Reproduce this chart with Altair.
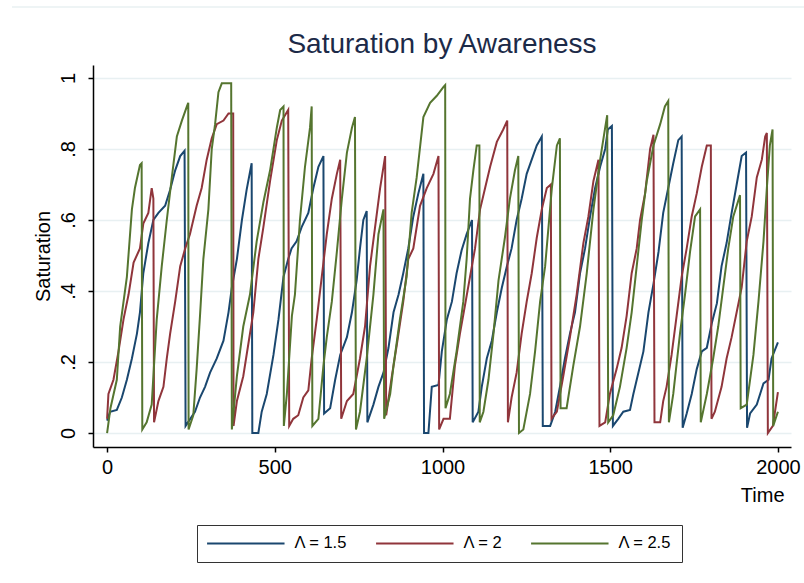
import altair as alt
import pandas as pd

series_names = ["Λ = 1.5", "Λ = 2", "Λ = 2.5"]
series_colors = ["#1a476f", "#90353b", "#55752f"]

blue_t = [0, 9, 29, 44, 59, 74, 89, 98, 108, 123, 138, 153, 173, 188, 203, 218, 231,
          234, 262, 277, 292, 307, 327, 347, 362, 372, 387, 402, 416, 431,
          433, 451, 461, 476, 496, 511, 526, 540, 550, 565, 580, 600, 615, 630, 645,
          647, 665, 680, 695, 715, 730, 744, 754, 764, 774,
          776, 794, 809, 824, 839, 854, 869, 883, 898, 913, 928, 943,
          945, 958, 968, 988, 998, 1013, 1028, 1042, 1057, 1072, 1088,
          1090, 1107, 1117, 1132, 1147, 1162, 1177, 1192, 1206, 1221, 1236, 1251, 1266, 1281, 1296,
          1299, 1321, 1336, 1350, 1365, 1380, 1395, 1410, 1425, 1440, 1455, 1470, 1485, 1493, 1505,
          1508, 1524, 1539, 1559, 1569, 1584, 1599, 1614, 1629, 1644, 1658, 1673, 1688, 1703, 1713,
          1716, 1728, 1743, 1758, 1773, 1788, 1803, 1818, 1832, 1847, 1862, 1877, 1892, 1905,
          1908, 1917, 1937, 1957, 1972, 1981, 2000]
blue_v = [0.035, 0.06, 0.065, 0.10, 0.15, 0.21, 0.28, 0.34, 0.45, 0.535, 0.60, 0.62, 0.64, 0.685, 0.74, 0.78, 0.795,
          0.02, 0.06, 0.10, 0.13, 0.17, 0.21, 0.26, 0.34, 0.41, 0.49, 0.60, 0.685, 0.76,
          0.00, 0.00, 0.06, 0.11, 0.22, 0.32, 0.44, 0.49, 0.52, 0.54, 0.58, 0.62, 0.69, 0.75, 0.78,
          0.055, 0.07, 0.15, 0.22, 0.27, 0.34, 0.43, 0.52, 0.60, 0.625,
          0.03, 0.08, 0.13, 0.17, 0.24, 0.34, 0.39, 0.45, 0.52, 0.61, 0.675, 0.73,
          0.00, 0.00, 0.13, 0.135, 0.23, 0.32, 0.37, 0.45, 0.515, 0.56, 0.60,
          0.03, 0.06, 0.13, 0.21, 0.26, 0.34, 0.41, 0.47, 0.52, 0.60, 0.66, 0.73, 0.77, 0.81, 0.835,
          0.02, 0.02, 0.06, 0.13, 0.21, 0.28, 0.34, 0.45, 0.52, 0.61, 0.69, 0.75, 0.80, 0.855, 0.865,
          0.02, 0.04, 0.06, 0.065, 0.11, 0.17, 0.23, 0.34, 0.42, 0.51, 0.62, 0.69, 0.76, 0.825, 0.835,
          0.015, 0.055, 0.11, 0.18, 0.23, 0.24, 0.31, 0.365, 0.47, 0.535, 0.62, 0.70, 0.78, 0.79,
          0.015, 0.055, 0.08, 0.14, 0.15, 0.21, 0.255]

red_t = [0, 4, 19, 34, 49, 64, 79, 98, 108, 123, 133, 138,
         140, 153, 168, 178, 188, 203, 218, 233, 247, 267, 282, 297, 312, 327, 347, 362, 376,
         377, 387, 406, 421, 436, 451, 466, 486, 506, 521, 540,
         543, 555, 570, 585, 600, 610, 625, 640, 655, 670, 685, 695,
         698, 715, 734, 754, 769, 784, 799, 814, 829,
         832, 849, 864, 883, 898, 913, 933, 953, 973, 988,
         990, 1003, 1022, 1037, 1052, 1067, 1082, 1097, 1112, 1127, 1142, 1162, 1181, 1193,
         1195, 1206, 1221, 1236, 1251, 1266, 1281, 1296, 1311, 1323,
         1325, 1341, 1360, 1380, 1400, 1420, 1435, 1450, 1465,
         1468, 1485, 1499, 1519, 1534, 1549, 1564, 1579, 1589, 1604, 1619, 1629,
         1632, 1649, 1658, 1668, 1683, 1698, 1713, 1728, 1743, 1758, 1773, 1788, 1800,
         1802, 1812, 1832, 1847, 1862, 1877, 1892, 1907, 1922, 1937, 1952, 1962, 1967,
         1970, 1985, 2000]
red_v = [0.04, 0.11, 0.15, 0.23, 0.32, 0.39, 0.48, 0.52, 0.59, 0.62, 0.69, 0.66,
         0.03, 0.09, 0.13, 0.21, 0.28, 0.37, 0.47, 0.52, 0.56, 0.64, 0.69, 0.77, 0.83, 0.87, 0.88, 0.90, 0.90,
         0.02, 0.09, 0.16, 0.25, 0.34, 0.49, 0.58, 0.71, 0.825, 0.88, 0.91,
         0.02, 0.04, 0.05, 0.10, 0.12, 0.21, 0.32, 0.44, 0.56, 0.66, 0.73, 0.77,
         0.04, 0.09, 0.11, 0.21, 0.30, 0.47, 0.58, 0.69, 0.78,
         0.05, 0.16, 0.25, 0.37, 0.49, 0.52, 0.64, 0.69, 0.73, 0.78,
         0.01, 0.04, 0.04, 0.19, 0.28, 0.36, 0.44, 0.52, 0.63, 0.69, 0.75, 0.82, 0.855, 0.88,
         0.03, 0.10, 0.17, 0.28, 0.37, 0.45, 0.55, 0.63, 0.69, 0.70,
         0.04, 0.06, 0.16, 0.27, 0.39, 0.535, 0.61, 0.71, 0.77,
         0.02, 0.03, 0.11, 0.18, 0.24, 0.33, 0.45, 0.52, 0.60, 0.675, 0.80, 0.84,
         0.03, 0.03, 0.09, 0.13, 0.22, 0.33, 0.44, 0.52, 0.61, 0.675, 0.75, 0.81, 0.81,
         0.04, 0.06, 0.13, 0.21, 0.27, 0.34, 0.41, 0.54, 0.61, 0.72, 0.77, 0.835, 0.845,
         0.00, 0.02, 0.115]

green_t = [0, 10, 29, 39, 59, 74, 83, 98, 103,
           105, 118, 133, 148, 163, 178, 193, 208, 223, 238, 242,
           243, 257, 267, 277, 287, 302, 312, 322, 332, 342, 370,
           372, 387, 406, 426, 446, 466, 486, 506, 516, 526,
           527, 536, 551, 560, 575, 590, 605, 610,
           612, 630, 645, 655, 670, 685, 700, 715, 730, 739,
           742, 754, 774, 794, 809, 824,
           826, 844, 854, 873, 893, 908, 923, 943, 963, 983, 1003, 1008,
           1009, 1022, 1042, 1062, 1072, 1082, 1092, 1102, 1110,
           1111, 1122, 1137, 1152, 1167, 1186, 1201, 1216, 1226,
           1228, 1241, 1261, 1276, 1291, 1306, 1316, 1326, 1341, 1350,
           1352, 1370, 1390, 1410, 1430, 1450, 1470, 1485, 1491,
           1494, 1509, 1529, 1549, 1564, 1579, 1594, 1609, 1629, 1649, 1663, 1673,
           1675, 1688, 1708, 1723, 1738, 1753, 1768,
           1770, 1788, 1807, 1822, 1837, 1852, 1867, 1887,
           1889, 1907, 1927, 1942, 1957, 1967, 1976, 1984,
           1986, 2000]
green_v = [0.00, 0.07, 0.15, 0.30, 0.44, 0.63, 0.69, 0.755, 0.76,
           0.01, 0.03, 0.08, 0.32, 0.47, 0.60, 0.72, 0.835, 0.88, 0.92, 0.93,
           0.01, 0.05, 0.18, 0.33, 0.49, 0.63, 0.80, 0.87, 0.96, 0.985, 0.985,
           0.01, 0.16, 0.30, 0.39, 0.54, 0.65, 0.74, 0.86, 0.91, 0.92,
           0.02, 0.11, 0.33, 0.39, 0.60, 0.75, 0.86, 0.92,
           0.02, 0.04, 0.19, 0.27, 0.37, 0.51, 0.66, 0.79, 0.86, 0.89,
           0.01, 0.06, 0.21, 0.39, 0.56, 0.63,
           0.04, 0.11, 0.19, 0.32, 0.44, 0.62, 0.72, 0.89, 0.93, 0.95, 0.975, 0.98,
           0.07, 0.11, 0.23, 0.37, 0.49, 0.66, 0.74, 0.81, 0.81,
           0.03, 0.06, 0.15, 0.28, 0.43, 0.55, 0.66, 0.74, 0.78,
           0.00, 0.01, 0.11, 0.23, 0.37, 0.47, 0.58, 0.69, 0.81, 0.83,
           0.07, 0.07, 0.19, 0.30, 0.45, 0.63, 0.77, 0.86, 0.895,
           0.03, 0.05, 0.13, 0.24, 0.34, 0.47, 0.60, 0.71, 0.81, 0.87, 0.92, 0.935,
           0.03, 0.11, 0.28, 0.39, 0.51, 0.61, 0.63,
           0.03, 0.11, 0.21, 0.30, 0.41, 0.52, 0.61, 0.67,
           0.07, 0.08, 0.22, 0.37, 0.54, 0.69, 0.81, 0.855,
           0.02, 0.06]

x_ticks = [0, 500, 1000, 1500, 2000]
y_ticks = [0, 0.2, 0.4, 0.6, 0.8, 1]

rows = []
for name, ts, vs in zip(series_names, [blue_t, red_t, green_t], [blue_v, red_v, green_v]):
    for i, (t, v) in enumerate(zip(ts, vs)):
        rows.append({"Time": t, "Saturation": v, "series": name, "i": i})
df = pd.DataFrame(rows)

FONT = "Liberation Sans"

lines = alt.Chart(df).mark_line(interpolate="linear", strokeWidth=2).encode(
    x=alt.X("Time:Q",
            scale=alt.Scale(domain=[-42, 2039], nice=False, zero=False),
            axis=alt.Axis(values=x_ticks, title="Time", grid=False, format="d",
                          labelFontSize=20, labelPadding=5, tickSize=5,
                          titleFontSize=20, titleFontWeight="normal",
                          titleAlign="right", titleAnchor="end",
                          titleX=691, titleY=48, titleBaseline="middle")),
    y=alt.Y("Saturation:Q",
            scale=alt.Scale(domain=[-0.0394, 1.0366], nice=False, zero=False),
            axis=alt.Axis(values=y_ticks, title="Saturation", grid=True,
                          labelExpr="datum.value == 0 ? '0' : datum.value == 1 ? '1' : '.' + round(datum.value * 10)",
                          labelAngle=270, labelAlign="center", labelBaseline="bottom",
                          labelFontSize=20, labelPadding=10, tickSize=5,
                          titleFontSize=20, titleFontWeight="normal",
                          titleAngle=270, titleX=-50, titleY=191,
                          titleAlign="center", titleBaseline="middle")),
    color=alt.Color("series:N",
                    scale=alt.Scale(domain=series_names, range=series_colors),
                    legend=alt.Legend(title=None, orient="none", legendX=104, legendY=460,
                                      direction="horizontal", symbolType="M-1.7,0H14.4",
                                      symbolSize=92.6, symbolStrokeWidth=2,
                                      labelFontSize=16.5, labelOffset=71, columnPadding=24,
                                      padding=10, strokeColor="#333333")),
    order=alt.Order("i:Q"),
)

top_line = alt.Chart(pd.DataFrame({"k": [0]})).mark_rule(color="#e8f0f2", strokeWidth=1.5).encode(
    x=alt.value(-81), x2=alt.value(711), y=alt.value(-58)
)

chart = alt.layer(top_line, lines).properties(
    width=698, height=382,
    title=alt.TitleParams("Saturation by Awareness", fontSize=28, fontWeight="normal",
                          color="#1c2a48", font=FONT, offset=-53, anchor="middle"),
    autosize=alt.AutoSizeParams(type="none"),
    padding={"left": 93, "top": 65, "right": 13, "bottom": 136},
).configure(
    font=FONT,
    background="white",
).configure_view(
    stroke=None,
).configure_axis(
    domainColor="black", domainWidth=1.5, tickColor="black", tickWidth=1.5,
    labelColor="black", titleColor="black", gridColor="#e8f0f2", gridWidth=1.5,
    labelFont=FONT, titleFont=FONT,
).configure_legend(
    labelFont=FONT, labelColor="black",
)

chart.save("out.html", embed_options={"renderer": "svg", "actions": False})
